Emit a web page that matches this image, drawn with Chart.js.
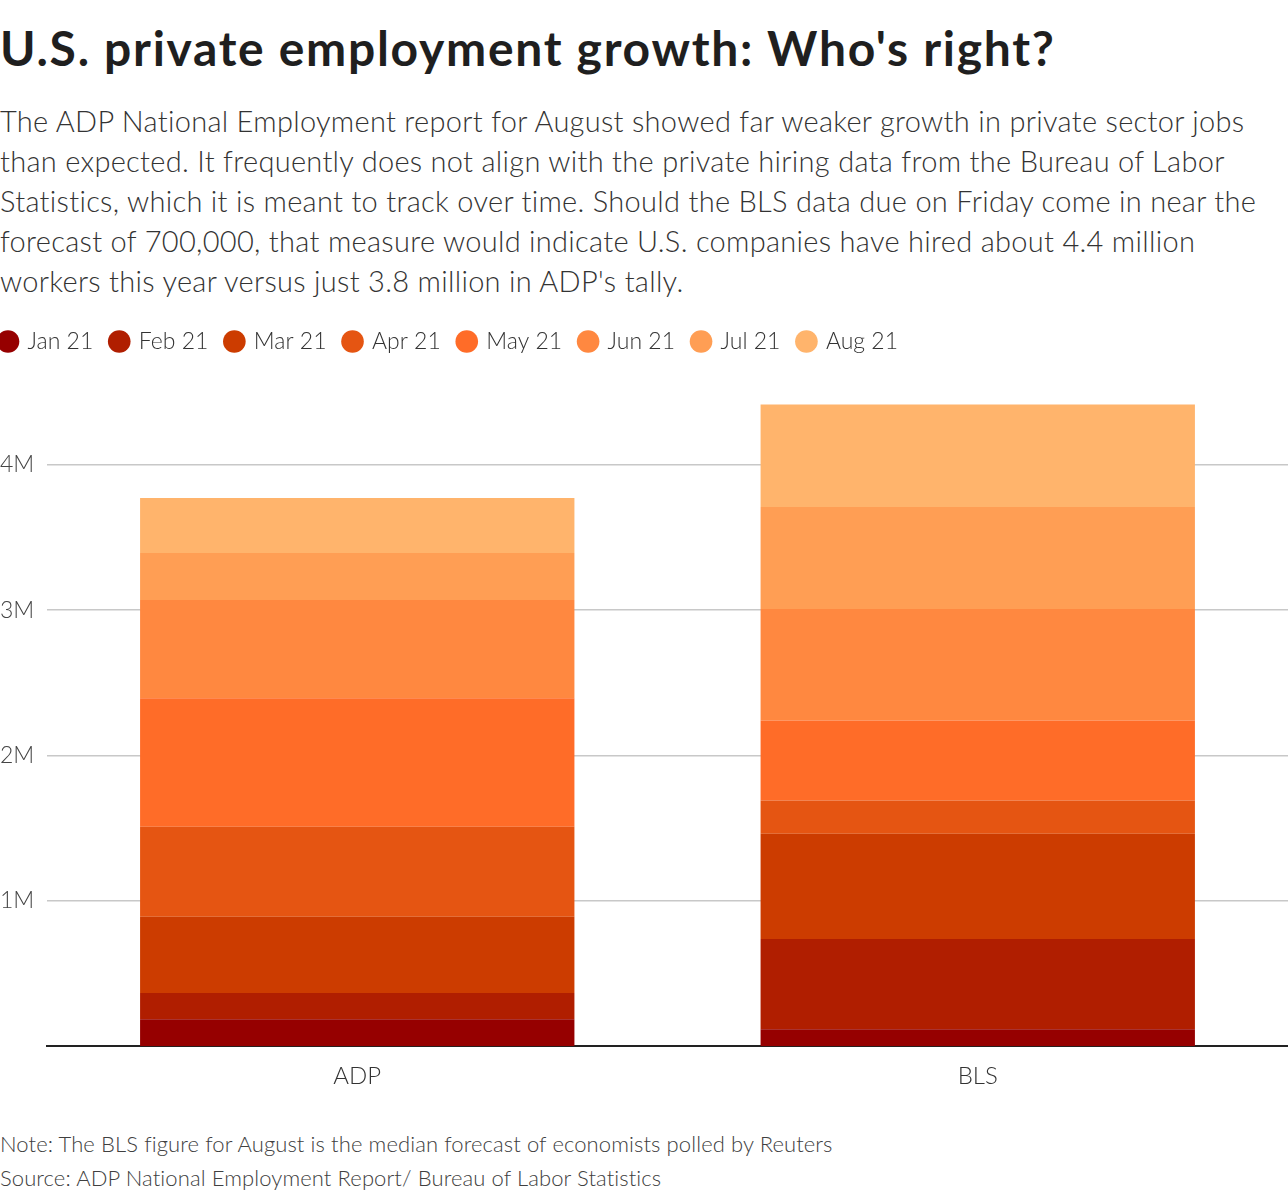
<!DOCTYPE html>
<html>
<head>
<meta charset="utf-8">
<script src="https://cdn.jsdelivr.net/npm/chart.js@4"></script>
<style>
  html, body { margin: 0; padding: 0; background: #fff; }
  body { width: 1288px; height: 1200px; position: relative; overflow: hidden; font-family: "Lato", "Noto Sans", sans-serif; }
  #title { position: absolute; left: 0; top: 16px; margin: 0; font-size: 48px; line-height: 64px; font-weight: 700; color: #1f1f1f; letter-spacing: 1.7px; white-space: nowrap; }
  #subtitle { position: absolute; left: 0; top: 101px; margin: 0; font-size: 29px; line-height: 40px; font-weight: 300; color: #333; letter-spacing: 0.3px; white-space: nowrap; }
  #wrap { position: absolute; left: 0; top: 312px; width: 1288px; height: 800px; }
  .foot { position: absolute; left: 0; font-size: 22px; font-weight: 300; color: #404040; white-space: nowrap; letter-spacing: 0.1px; }
</style>
</head>
<body>
<h1 id="title">U.S. private employment growth: Who's right?</h1>
<p id="subtitle">The ADP National Employment report for August showed far weaker growth in private sector jobs<br>than expected. It frequently does not align with the private hiring data from the Bureau of Labor<br>Statistics, which it is meant to track over time. Should the BLS data due on Friday come in near the<br>forecast of 700,000, that measure would indicate U.S. companies have hired about 4.4 million<br>workers this year versus just 3.8 million in ADP's tally.</p>
<div id="wrap"><canvas id="chart"></canvas></div>
<div class="foot" style="top:1130px">Note: The BLS figure for August is the median forecast of economists polled by Reuters</div>
<div class="foot" style="top:1164px">Source: ADP National Employment Report/ Bureau of Labor Statistics</div>
<script>
const categories = ['ADP', 'BLS'];
const months = ['Jan 21', 'Feb 21', 'Mar 21', 'Apr 21', 'May 21', 'Jun 21', 'Jul 21', 'Aug 21'];
const monthColors = ['#960000', '#b01e00', '#cc3c00', '#e55512', '#ff6c28', '#ff8840', '#ff9e54', '#ffb46c'];
const adpValues = [186000, 180000, 524000, 620000, 883000, 676000, 324000, 379000];
const blsValues = [117000, 621000, 724000, 228000, 551000, 766000, 703000, 704000];
const yTicks = [1000000, 2000000, 3000000, 4000000];

const datasets = months.map((m, i) => ({
    label: m,
    data: [adpValues[i], blsValues[i]],
    backgroundColor: monthColors[i],
    borderWidth: 0,
    categoryPercentage: 1,
    barPercentage: 0.7
}));

// nudge the legend so the first dot sits on the left edge
const legendShift = {
    id: 'legendShift',
    afterLayout(chart) {
        if (chart.legend) chart.legend.left -= 18;
    }
};

new Chart(document.getElementById('chart'), {
    type: 'bar',
    data: { labels: categories, datasets: datasets },
    plugins: [legendShift],
    options: {
        responsive: true,
        maintainAspectRatio: false,
        animation: false,
        layout: { padding: { top: 0, right: 0, bottom: 5, left: 0 } },
        plugins: {
            tooltip: { enabled: false },
            legend: {
                position: 'top',
                align: 'start',
                labels: {
                    usePointStyle: true,
                    pointStyle: 'circle',
                    boxWidth: 16,
                    boxHeight: 16,
                    padding: 18,
                    color: '#333',
                    font: { family: 'Lato', size: 23, weight: '300' }
                }
            }
        },
        scales: {
            x: {
                stacked: true,
                grid: { display: false, drawTicks: false },
                border: { display: true, color: '#222', width: 2 },
                ticks: {
                    color: '#333',
                    padding: 16,
                    font: { family: 'Lato', size: 24, weight: '300' }
                }
            },
            y: {
                stacked: true,
                min: 0,
                max: 4700000,
                afterBuildTicks(scale) {
                    scale.ticks = yTicks.map(v => ({ value: v }));
                },
                afterFit(scale) { scale.width = 47; },
                border: { display: false },
                grid: { color: '#c8c8c8', lineWidth: 1.5, drawTicks: false },
                ticks: {
                    crossAlign: 'far',
                    color: '#444',
                    padding: 0,
                    font: { family: 'Lato', size: 23, weight: '300' },
                    callback: v => (v / 1000000) + 'M'
                }
            }
        }
    }
});
</script>
</body>
</html>
